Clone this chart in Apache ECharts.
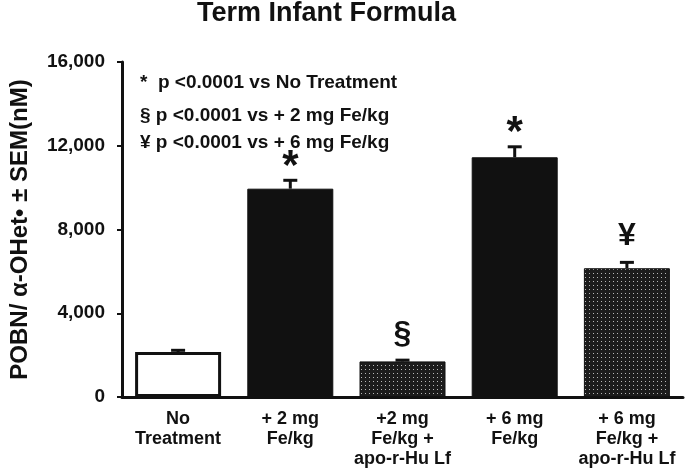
<!DOCTYPE html>
<html>
<head>
    <meta charset="utf-8">
    <title>Term Infant Formula</title>
    <script src="https://cdn.jsdelivr.net/npm/echarts@6/dist/echarts.min.js"></script>
    <style>
        body { margin: 0; background: #fff; }
        #app { width: 685px; height: 472px; }
    </style>
</head>
<body>
<div id="app"></div>
<script type="text/javascript">
    // data
    var categories = ['No\nTreatment', '+ 2 mg\nFe/kg', '+2 mg\nFe/kg +\napo-r-Hu Lf', '+ 6 mg\nFe/kg', '+ 6 mg\nFe/kg +\napo-r-Hu Lf'];
    var means = [2150, 9950, 1700, 11450, 6150];
    var sem = [80, 400, 60, 500, 280];
    var marks = ['', '*', '§', '*', '¥'];
    var yTicks = [0, 4000, 8000, 12000, 16000];
    var notes = ['*  p <0.0001 vs No Treatment', '§ p <0.0001 vs + 2 mg Fe/kg', '¥ p <0.0001 vs + 6 mg Fe/kg'];

    var font = '"Liberation Sans", Arial, sans-serif';

    // dotted fill for the lactoferrin bars
    function dots() {
        var c = document.createElement('canvas');
        c.width = 4; c.height = 4;
        var ctx = c.getContext('2d');
        ctx.fillStyle = '#1c1c1c';
        ctx.fillRect(0, 0, 4, 4);
        ctx.fillStyle = '#b8b8b8';
        ctx.fillRect(1, 1, 1, 1);
        return c;
    }
    var dotFill = { image: dots(), repeat: 'repeat' };

    var fills = ['#ffffff', '#111111', dotFill, '#111111', dotFill];

    var barData = means.map(function (v, i) {
        return { value: v, itemStyle: { color: fills[i], borderColor: '#111', borderWidth: i == 0 ? 3 : 1 } };
    });
    var errData = means.map(function (v, i) { return [i, v, sem[i]]; });
    var markData = means.map(function (v, i) { return [i, v + sem[i], marks[i]]; });

    var option = {
        animation: false,
        title: {
            text: 'Term Infant Formula',
            left: 197,
            top: 0,
            padding: 0,
            textStyle: { fontFamily: font, fontSize: 27, fontWeight: 'bold', color: '#111' }
        },
        graphic: notes.map(function (t, i) {
            return {
                type: 'text',
                left: 140,
                top: [73, 106, 133][i],
                style: { text: t, font: 'bold 19px ' + font, fill: '#111' }
            };
        }),
        grid: { left: 122, right: 2, top: 62, bottom: 75 },
        xAxis: {
            type: 'category',
            data: categories,
            axisLine: { lineStyle: { color: '#111', width: 3 } },
            axisTick: { show: false },
            axisLabel: {
                interval: 0,
                margin: 12,
                fontFamily: font,
                fontSize: 18,
                fontWeight: 'bold',
                lineHeight: 20,
                color: '#111'
            }
        },
        yAxis: {
            type: 'value',
            min: yTicks[0],
            max: yTicks[yTicks.length - 1],
            interval: 4000,
            name: 'POBN/ \u03b1-OHet\u2022 \u00b1 SEM(nM)',
            nameLocation: 'middle',
            nameGap: 90,
            nameTextStyle: { fontFamily: font, fontSize: 24, fontWeight: 'bold', color: '#111' },
            axisLine: { show: true, lineStyle: { color: '#111', width: 3 } },
            axisTick: { show: true, length: 5, lineStyle: { color: '#111', width: 2 } },
            splitLine: { show: false },
            axisLabel: {
                margin: 17,
                fontFamily: font,
                fontSize: 19,
                fontWeight: 'bold',
                color: '#111',
                formatter: function (v) { return v.toLocaleString('en-US'); }
            }
        },
        series: [{
            type: 'bar',
            data: barData,
            barWidth: 86
        }, {
            type: 'custom',
            data: errData,
            renderItem: function (params, api) {
                var x = api.value(0), v = api.value(1), e = api.value(2);
                var b = api.coord([x, v]);
                var t = api.coord([x, v + e]);
                return {
                    type: 'group',
                    children: [{
                        type: 'line',
                        shape: { x1: b[0], y1: b[1], x2: t[0], y2: t[1] },
                        style: { stroke: '#111', lineWidth: 3 }
                    }, {
                        type: 'line',
                        shape: { x1: t[0] - 7, y1: t[1], x2: t[0] + 7, y2: t[1] },
                        style: { stroke: '#111', lineWidth: 3 }
                    }]
                };
            }
        }, {
            type: 'custom',
            data: markData,
            renderItem: function (params, api) {
                var p = api.coord([api.value(0), api.value(1)]);
                var s = marks[params.dataIndex];
                var big = s == '*';
                return {
                    type: 'text',
                    x: p[0],
                    y: p[1] - (big ? -8 : 10),
                    style: {
                        text: s,
                        font: 'bold ' + (big ? 42 : 32) + 'px ' + font,
                        fill: '#111',
                        align: 'center',
                        verticalAlign: 'bottom'
                    }
                };
            }
        }]
    };

    var myChart = echarts.init(document.getElementById('app'));
    myChart.setOption(option);
</script>
</body>
</html>
